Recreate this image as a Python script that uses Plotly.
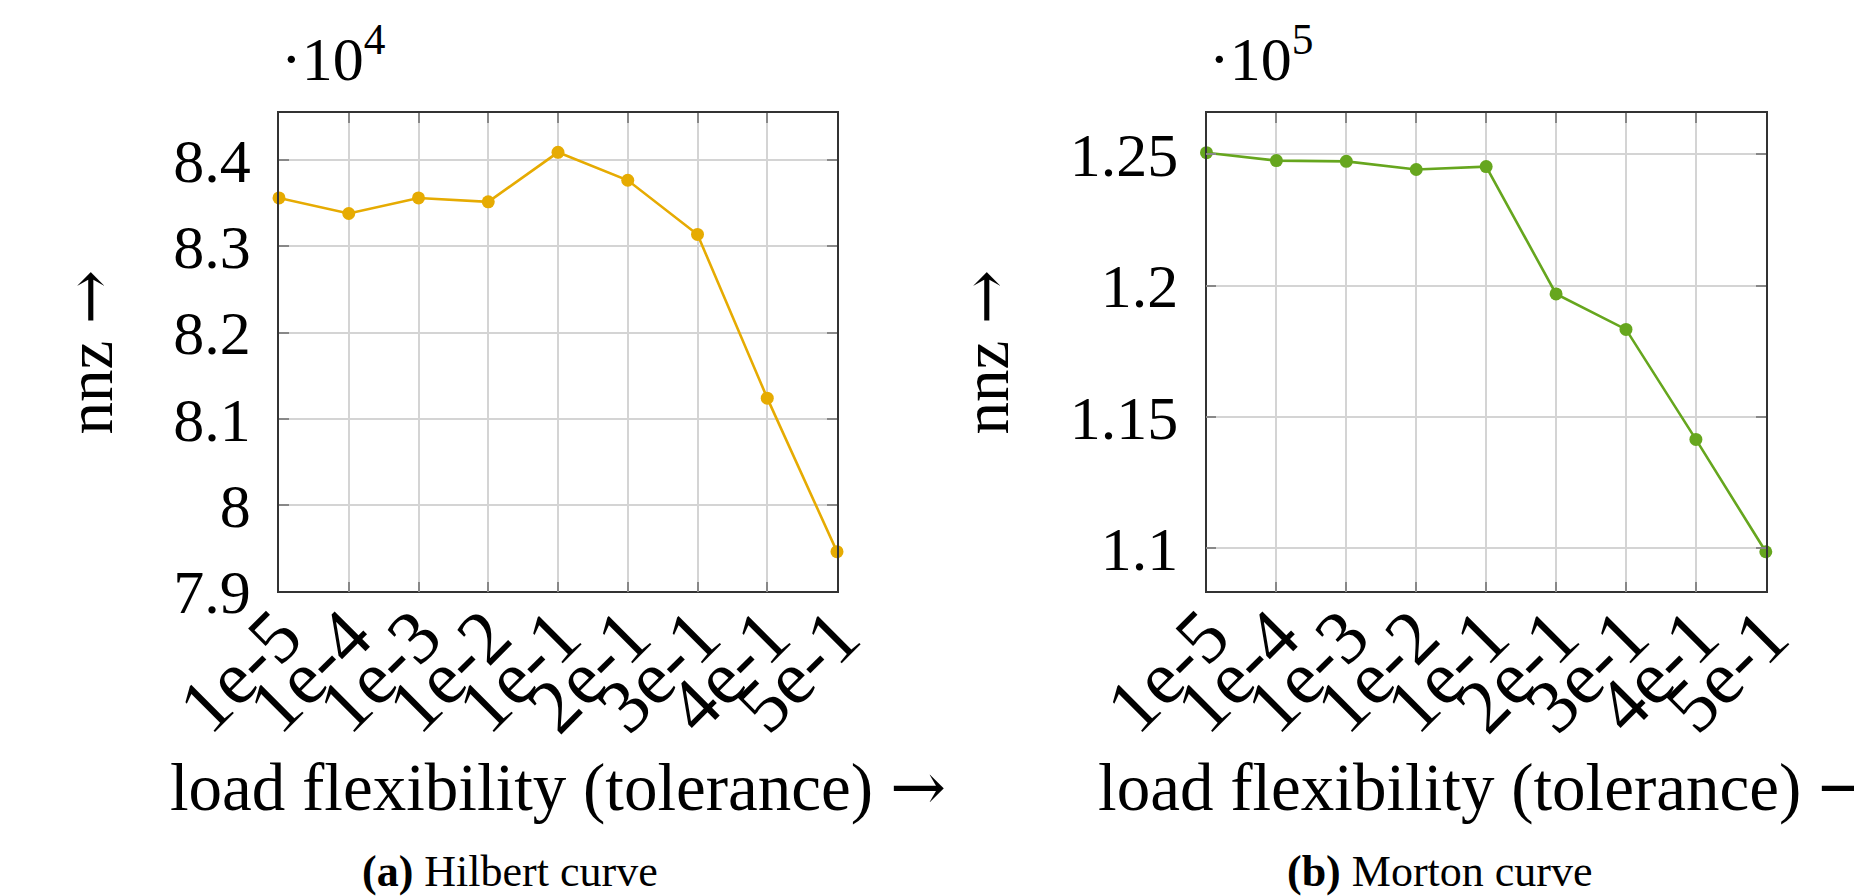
import plotly.graph_objects as go

# ---- data ----
tolerances = ["1e-5", "1e-4", "1e-3", "1e-2", "1e-1", "2e-1", "3e-1", "4e-1", "5e-1"]
hilbert_nnz = [83560, 83380, 83560, 83515, 84089, 83765, 83137, 81240, 79460]
morton_nnz = [125060, 124760, 124730, 124420, 124530, 119680, 118330, 114140, 109860]
hilbert_scale = 1e4
morton_scale = 1e5
hilbert_ticks = [7.9, 8.0, 8.1, 8.2, 8.3, 8.4]
hilbert_ticktext = ["7.9", "8", "8.1", "8.2", "8.3", "8.4"]
morton_ticks = [1.10, 1.15, 1.20, 1.25]
morton_ticktext = ["1.1", "1.15", "1.2", "1.25"]

FONT = "Liberation Serif"
HILBERT_COLOR = "#e6ab02"
MORTON_COLOR = "#66a61e"
YTICK_SIZE = 62
XTICK_SIZE = 76
XTITLE_SIZE = 67
YTITLE_SIZE = 65
ARROW = '<span style="font-family:DejaVu Serif">→</span>'

xpos = list(range(len(tolerances)))

fig = go.Figure()
fig.add_trace(go.Scatter(
    x=xpos, y=[v / hilbert_scale for v in hilbert_nnz], mode="lines+markers",
    line=dict(color=HILBERT_COLOR, width=2.6), marker=dict(size=13, color=HILBERT_COLOR),
    xaxis="x", yaxis="y", showlegend=False, cliponaxis=False))
fig.add_trace(go.Scatter(
    x=xpos, y=[v / morton_scale for v in morton_nnz], mode="lines+markers",
    line=dict(color=MORTON_COLOR, width=2.6), marker=dict(size=13, color=MORTON_COLOR),
    xaxis="x2", yaxis="y2", showlegend=False, cliponaxis=False))

# page offset (browser default body margin)
OFF = 8
W, H = 1862 - OFF, 896 - OFF
left1, right1 = 279 - OFF, 837 - OFF
left2, right2 = 1206.5 - OFF, 1765.8 - OFF
top, bottom = 112.8 - OFF, 591.4 - OFF
ydom = [1 - bottom / H, 1 - top / H]

common_x = dict(
    tickmode="array", tickvals=xpos, ticktext=tolerances, tickangle=-45,
    range=[0, len(tolerances) - 1], showgrid=True, gridcolor="#d4d4d4", gridwidth=1.5,
    showline=True, linecolor="#333333", linewidth=1.5, mirror="allticks",
    ticks="inside", ticklen=10, tickcolor="#888888", tickwidth=1.5,
    tickfont=dict(family=FONT, size=XTICK_SIZE, color="black"),
    zeroline=False, ticklabelstandoff=-32, automargin=False,
    title=dict(text="load flexibility (tolerance) " + ARROW,
               font=dict(family=FONT, size=XTITLE_SIZE, color="black"), standoff=6),
)
common_y = dict(
    tickmode="array", showgrid=True, gridcolor="#d4d4d4", gridwidth=1.5,
    showline=True, linecolor="#333333", linewidth=1.5, mirror="allticks",
    ticks="inside", ticklen=10, tickcolor="#888888", tickwidth=1.5,
    tickfont=dict(family=FONT, size=YTICK_SIZE, color="black"),
    zeroline=False, ticklabelstandoff=14, automargin=False,
    title=dict(text="nnz " + ARROW, font=dict(family=FONT, size=YTITLE_SIZE, color="black"), standoff=40),
)

def px_x(v):
    return (v - OFF) / W

def px_y(v):
    return 1 - (v - OFF) / H

fig.update_layout(
    width=W, height=H, margin=dict(l=0, r=0, t=0, b=0, autoexpand=False),
    paper_bgcolor="white", plot_bgcolor="white",
    xaxis=dict(domain=[left1 / W, right1 / W], anchor="y", **common_x),
    yaxis=dict(domain=ydom, anchor="x", range=[7.9, 8.4547], tickvals=hilbert_ticks,
               ticktext=hilbert_ticktext, **common_y),
    xaxis2=dict(domain=[left2 / W, right2 / W], anchor="y2", **common_x),
    yaxis2=dict(domain=ydom, anchor="x2", range=[1.0835, 1.2658], tickvals=morton_ticks,
                ticktext=morton_ticktext, **common_y),
    annotations=[
        dict(text="·10<sup>4</sup>", x=px_x(279), y=px_y(95), xref="paper", yref="paper",
             xanchor="left", yanchor="bottom", showarrow=False,
             font=dict(family=FONT, size=YTICK_SIZE, color="black")),
        dict(text="·10<sup>5</sup>", x=px_x(1206.5), y=px_y(95), xref="paper", yref="paper",
             xanchor="left", yanchor="bottom", showarrow=False,
             font=dict(family=FONT, size=YTICK_SIZE, color="black")),
        dict(text="<b>(a)</b> Hilbert curve", x=px_x(510), y=px_y(871), xref="paper", yref="paper",
             xanchor="center", yanchor="middle", showarrow=False,
             font=dict(family=FONT, size=44, color="black")),
        dict(text="<b>(b)</b> Morton curve", x=px_x(1440), y=px_y(871), xref="paper", yref="paper",
             xanchor="center", yanchor="middle", showarrow=False,
             font=dict(family=FONT, size=44, color="black")),
    ],
)

fig.write_html("out.html")
